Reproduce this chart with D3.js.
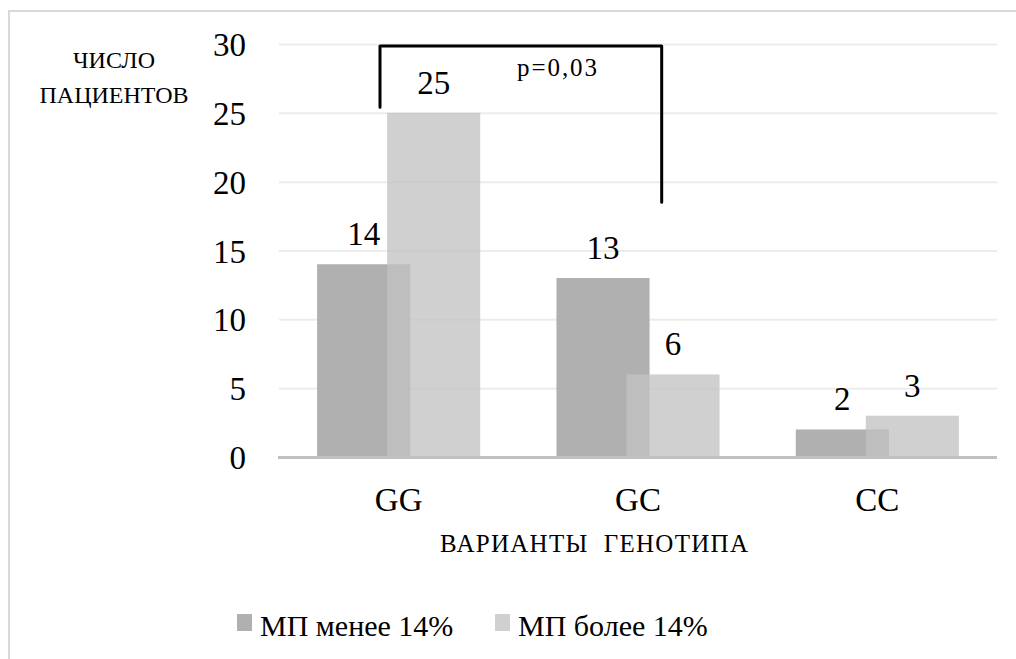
<!DOCTYPE html>
<html>
<head>
<meta charset="utf-8">
<script src="https://cdn.jsdelivr.net/npm/d3@7"></script>
<style>
  html, body { margin: 0; padding: 0; background: #fff; }
  svg { display: block; }
</style>
</head>
<body>
<svg id="chart" width="1016" height="659"></svg>
<script>
// Genotype variants and patient counts for the two groups
const genotypes = ["GG", "GC", "CC"];
const seriesNames = ["МП менее 14%", "МП более 14%"];
const lessThan14 = [14, 13, 2];
const moreThan14 = [25, 6, 3];
const yTicks = [0, 5, 10, 15, 20, 25, 30];
const yTitle = ["ЧИСЛО", "ПАЦИЕНТОВ"];
const xTitle = "ВАРИАНТЫ  ГЕНОТИПА";
const pLabel = "p=0,03";

const FONT = "'Liberation Serif'";

const svg = d3.select("#chart");

// frame around the chart area
svg.append("rect")
  .attr("x", 9).attr("y", 11).attr("width", 1030).attr("height", 680)
  .attr("fill", "none").attr("stroke", "#d9d9d9").attr("stroke-width", 2);

const plot = { left: 279, right: 997, top: 44, bottom: 457 };

const x = d3.scaleBand().domain(genotypes).range([plot.left, plot.right]);
const y = d3.scaleLinear().domain([0, 30]).range([plot.bottom, plot.top]);

const band = x.bandwidth();
const barW = band * 0.389;
const shift = band * 0.2925;

const txt = (sel, size) => sel.style("font-family", FONT).style("font-size", size + "px").attr("fill", "#000");

// gridlines
const grid = svg.append("g").attr("transform", `translate(${plot.left},0)`)
  .call(d3.axisLeft(y).tickValues(yTicks.filter(v => v > 0)).tickSize(-(plot.right - plot.left)).tickFormat(""));
grid.select(".domain").remove();
grid.selectAll(".tick line").attr("stroke", "#ececec").attr("stroke-width", 2);

// y tick labels
const yAxis = svg.append("g").attr("transform", `translate(246,0)`)
  .call(d3.axisLeft(y).tickValues(yTicks).tickSize(0).tickPadding(0));
yAxis.select(".domain").remove();
yAxis.selectAll(".tick text").call(txt, 33).attr("dy", "0.35em");

const groups = genotypes.map((g, i) => ({ g, a: lessThan14[i], b: moreThan14[i] }));
const groupLeft = d => x(d.g) + band / 2 - (barW + shift) / 2;

// first series (darker)
svg.append("g").selectAll("rect").data(groups).join("rect")
  .attr("x", d => groupLeft(d))
  .attr("y", d => y(d.a))
  .attr("width", barW)
  .attr("height", d => y(0) - y(d.a))
  .attr("fill", "#b0b0b0");

// second series (lighter, drawn over the first where they overlap)
svg.append("g").selectAll("rect").data(groups).join("rect")
  .attr("x", d => groupLeft(d) + shift)
  .attr("y", d => y(d.b))
  .attr("width", barW)
  .attr("height", d => y(0) - y(d.b))
  .attr("fill", "#c2c2c2").attr("fill-opacity", 0.77);

// baseline
svg.append("line")
  .attr("x1", plot.left - 1).attr("x2", plot.right)
  .attr("y1", y(0) + 0.5).attr("y2", y(0) + 0.5)
  .attr("stroke", "#c0c0c0").attr("stroke-width", 3);

// value labels
const valueLabels = svg.append("g").attr("text-anchor", "middle");
valueLabels.selectAll("text.a").data(groups).join("text").attr("class", "a")
  .call(txt, 33)
  .attr("x", d => groupLeft(d) + barW / 2)
  .attr("y", d => y(d.a) - 19)
  .text(d => d.a);
valueLabels.selectAll("text.b").data(groups).join("text").attr("class", "b")
  .call(txt, 33)
  .attr("x", d => groupLeft(d) + shift + barW / 2)
  .attr("y", d => y(d.b) - 19)
  .text(d => d.b);

// category labels
const xAxis = svg.append("g").attr("transform", `translate(0,${plot.bottom})`)
  .call(d3.axisBottom(x).tickSize(0).tickPadding(0));
xAxis.select(".domain").remove();
xAxis.selectAll(".tick text").call(txt, 33).attr("dy", 0).attr("y", 54);

// axis titles
svg.append("text").call(txt, 24).attr("text-anchor", "middle")
  .selectAll("tspan").data(yTitle).join("tspan")
  .attr("x", 114).attr("y", (d, i) => 68 + i * 35).text(d => d);

svg.append("text").call(txt, 25).attr("x", 440).attr("y", 552)
  .style("white-space", "pre")
  .attr("textLength", 308).attr("lengthAdjust", "spacing").text(xTitle);

// significance bracket between GG and GC
const bracket = { fromCat: "GG", fromOff: -0.078, toCat: "GC", toOff: 0.099, top: 29.85, leftEnd: 25.4, rightEnd: 18.5 };
const bx1 = x(bracket.fromCat) + band / 2 + bracket.fromOff * band;
const bx2 = x(bracket.toCat) + band / 2 + bracket.toOff * band;
svg.append("path")
  .attr("d", `M${bx1},${y(bracket.leftEnd)} L${bx1},${y(bracket.top)} L${bx2},${y(bracket.top)} L${bx2},${y(bracket.rightEnd)}`)
  .attr("fill", "none").attr("stroke", "#000").attr("stroke-width", 3)
  .attr("stroke-linejoin", "round").attr("stroke-linecap", "round");

svg.append("text").call(txt, 25).attr("x", 517).attr("y", y(27.65))
  .attr("textLength", 80).attr("lengthAdjust", "spacing").text(pLabel);

// legend
const legendColors = ["#b0b0b0", "#d0d0d0"];
const legendX = [237, 495];
const legend = svg.append("g");
seriesNames.forEach((name, i) => {
  legend.append("rect").attr("x", legendX[i]).attr("y", 614).attr("width", 15).attr("height", 17)
    .attr("fill", legendColors[i]);
  legend.append("text").call(txt, 30).attr("x", legendX[i] + 23).attr("y", 636).text(name);
});
</script>
</body>
</html>
